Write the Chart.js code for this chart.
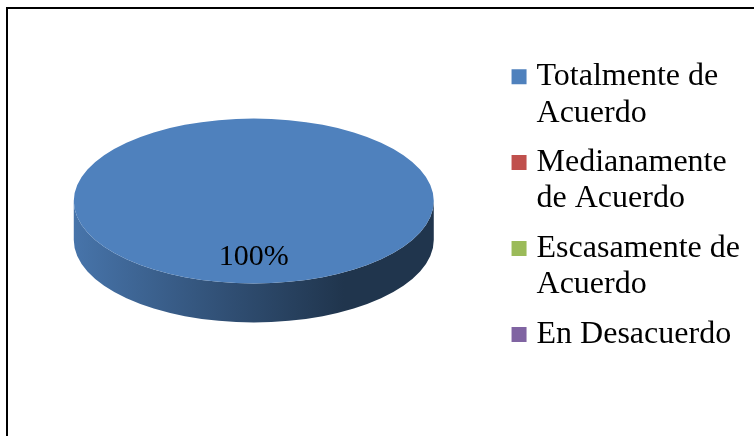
<!DOCTYPE html>
<html>
<head>
<meta charset="utf-8">
<script src="https://cdn.jsdelivr.net/npm/chart.js@4.4.1/dist/chart.umd.min.js"></script>
<style>
  html, body { margin: 0; padding: 0; background: #ffffff; overflow: hidden; }
  #wrap { position: relative; width: 754px; height: 436px; overflow: hidden; background: #ffffff; }
  #frame { position: absolute; left: 6px; top: 7px; width: 900px; height: 600px; border: 2px solid #000; pointer-events: none; }
  #chart { position: absolute; left: 0; top: 0; }
</style>
</head>
<body>
<div id="wrap">
  <canvas id="chart" width="754" height="436"></canvas>
  <div id="frame"></div>
</div>
<script>
// ---- data ----
const categories = [
  ["Totalmente de", "Acuerdo"],
  ["Medianamente", "de Acuerdo"],
  ["Escasamente de", "Acuerdo"],
  ["En Desacuerdo"]
];
const values = [100, 0, 0, 0];
const colors = ["#4F81BD", "#C0504D", "#9BBB59", "#8064A2"];

const FONT = "'Liberation Serif', 'Times New Roman', serif";

function shade(hex, f) {
  const n = parseInt(hex.slice(1), 16);
  const r = Math.round(((n >> 16) & 255) * f);
  const g = Math.round(((n >> 8) & 255) * f);
  const b = Math.round((n & 255) * f);
  return `rgb(${r},${g},${b})`;
}

const pie3d = {
  id: 'pie3d',
  beforeDatasetsDraw(chart, args, opts) {
    const ctx = chart.ctx;
    const meta = chart.getDatasetMeta(0);
    const k = opts.tilt, d = opts.depth;
    // side walls (front half only)
    meta.data.forEach((arc, i) => {
      const p = arc.getProps(['x', 'y', 'startAngle', 'endAngle', 'outerRadius'], true);
      if (p.endAngle - p.startAngle <= 0) return;
      const R = p.outerRadius, ry = R * k;
      const ranges = [];
      for (const off of [-2 * Math.PI, 0, 2 * Math.PI]) {
        const a = Math.max(p.startAngle, off), b = Math.min(p.endAngle, off + Math.PI);
        if (b > a) ranges.push([a, b]);
      }
      const base = meta.controller.getDataset().backgroundColor[i];
      const g = ctx.createLinearGradient(p.x - R, 0, p.x + R, 0);
      g.addColorStop(0, shade(base, 0.9));
      g.addColorStop(0.45, shade(base, 0.6));
      g.addColorStop(0.75, shade(base, 0.41));
      g.addColorStop(1, shade(base, 0.41));
      ranges.forEach(([a, b]) => {
        ctx.save();
        ctx.beginPath();
        ctx.ellipse(p.x, p.y + d, R, ry, 0, a, b, false);
        ctx.ellipse(p.x, p.y, R, ry, 0, b, a, true);
        ctx.closePath();
        ctx.fillStyle = g;
        ctx.fill();
        ctx.restore();
      });
    });
    // tilt the top face
    const c = meta.data[0];
    ctx.save();
    ctx.translate(c.x, c.y);
    ctx.scale(1, k);
    ctx.translate(-c.x, -c.y);
  },
  afterDatasetsDraw(chart, args, opts) {
    const ctx = chart.ctx;
    ctx.restore();
    const meta = chart.getDatasetMeta(0);
    const ds = chart.data.datasets[0].data;
    const total = ds.reduce((s, v) => s + v, 0);
    ctx.save();
    ctx.font = `30px ${FONT}`;
    ctx.fillStyle = '#000';
    ctx.textAlign = 'center';
    ctx.textBaseline = 'middle';
    meta.data.forEach((arc, i) => {
      if (!ds[i]) return;
      const p = arc.getProps(['x', 'y', 'startAngle', 'endAngle', 'outerRadius'], true);
      const mid = (p.startAngle + p.endAngle) / 2;
      const r = p.outerRadius * opts.labelPos;
      const lx = p.x + Math.cos(mid) * r;
      const ly = p.y + Math.sin(mid) * r * opts.tilt;
      ctx.fillText(Math.round(ds[i] / total * 100) + '%', lx, ly);
    });
    ctx.restore();
  }
};

new Chart(document.getElementById('chart'), {
  type: 'pie',
  data: {
    labels: categories,
    datasets: [{
      data: values,
      backgroundColor: colors,
      borderWidth: 0,
      radius: 180
    }]
  },
  options: {
    responsive: false,
    animation: false,
    devicePixelRatio: 1,
    layout: { padding: { left: 3, right: 4, top: 34, bottom: 68 } },
    plugins: {
      tooltip: { enabled: false },
      pie3d: { tilt: 0.458, depth: 39, labelPos: 0.68 },
      legend: {
        position: 'right',
        align: 'end',
        labels: {
          color: '#000',
          boxWidth: 3,
          boxHeight: 3,
          padding: 13,
          font: { family: FONT, size: 32, lineHeight: 1.14 },
          generateLabels(chart) {
            const items = Chart.overrides.pie.plugins.legend.labels.generateLabels(chart);
            return items.map(it => Object.assign(it, { lineWidth: 12, strokeStyle: it.fillStyle }));
          }
        }
      }
    }
  },
  plugins: [pie3d]
});
</script>
</body>
</html>
